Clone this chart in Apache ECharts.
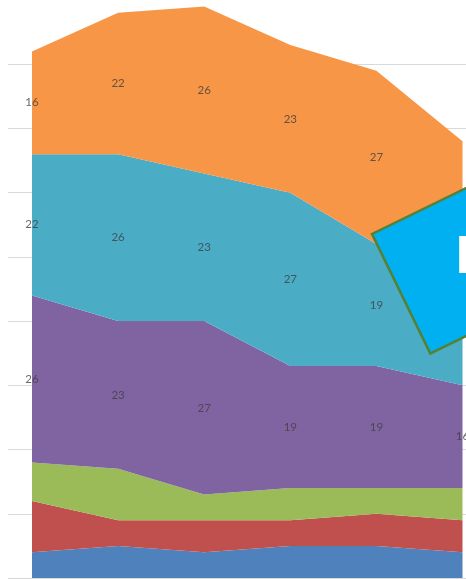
<!DOCTYPE html>
<html>
<head>
<meta charset="utf-8">
<script src="https://cdn.jsdelivr.net/npm/echarts@6/dist/echarts.min.js"></script>
<style>
html,body{margin:0;padding:0;background:#fff;}
#main{width:466px;height:579px;}
</style>
</head>
<body>
<div id="main"></div>
<script>
// Data (bottom to top of the stack)
const categories = ['1', '2', '3', '4', '5', '6'];
const blueVals   = [4, 5, 4, 5, 5, 4];
const redVals    = [8, 4, 5, 4, 5, 5];
const greenVals  = [6, 8, 4, 5, 4, 5];
const purpleVals = [26, 23, 27, 19, 19, 16];
const tealVals   = [22, 26, 23, 27, 19, 19];
const orangeVals = [16, 22, 26, 23, 27, 19];
const yTicks = [0, 10, 20, 30, 40, 50, 60, 70, 80, 90];

const seriesDefs = [
  {name: 'S1', vals: blueVals,   color: '#4f81bd', label: false},
  {name: 'S2', vals: redVals,    color: '#c0504d', label: false},
  {name: 'S3', vals: greenVals,  color: '#9bbb59', label: false},
  {name: 'S4', vals: purpleVals, color: '#8064a2', label: true},
  {name: 'S5', vals: tealVals,   color: '#4bacc6', label: true},
  {name: 'S6', vals: orangeVals, color: '#f79646', label: true}
];

const series = [];
const base = categories.map(() => 0);
seriesDefs.forEach(def => {
  series.push({
    name: def.name,
    type: 'line',
    stack: 'total',
    xAxisIndex: 1, yAxisIndex: 1,
    showSymbol: false,
    symbol: 'none',
    lineStyle: {width: 0},
    areaStyle: {color: def.color, opacity: 1},
    data: def.vals,
    z: 2
  });
  if (def.label) {
    series.push({
      type: 'scatter',
      xAxisIndex: 1, yAxisIndex: 1,
      symbolSize: 0,
      silent: true,
      z: 5,
      label: {
        show: true,
        position: 'inside',
        formatter: p => String(p.data[2]),
        color: '#404040',
        fontSize: 11.5,
        fontFamily: 'Lato'
      },
      data: def.vals.map((v, i) => [categories[i], base[i] + v / 2, v])
    });
  }
  def.vals.forEach((v, i) => { base[i] += v; });
});

const yCommon = {
  type: 'value',
  min: yTicks[0],
  max: yTicks[yTicks.length - 1],
  interval: yTicks[1] - yTicks[0],
  axisLine: {show: false}, axisTick: {show: false}, axisLabel: {show: false}
};
const xHidden = {axisLine: {show: false}, axisTick: {show: false}, axisLabel: {show: false}, splitLine: {show: false}};
// the topmost line falls on the cropped top edge and is not visible
const gridColors = yTicks.map((t, i) => i === yTicks.length - 1 ? 'rgba(0,0,0,0)' : '#d9d9d9');

const chart = echarts.init(document.getElementById('main'));
chart.setOption({
  animation: false,
  grid: [
    {left: 8, right: 0, top: -1, bottom: 1},
    {left: 32, right: 3.5, top: -1, bottom: 1}
  ],
  xAxis: [
    Object.assign({type: 'value', gridIndex: 0, min: 0, max: 1}, xHidden),
    Object.assign({type: 'category', gridIndex: 1, boundaryGap: false, data: categories}, xHidden)
  ],
  yAxis: [
    Object.assign({gridIndex: 0, splitLine: {show: true, lineStyle: {color: gridColors, width: 1}}}, yCommon),
    Object.assign({gridIndex: 1, splitLine: {show: false}}, yCommon)
  ],
  series: series,
  graphic: [
    {
      type: 'group',
      x: 372, y: 234,
      rotation: 26 * Math.PI / 180,
      zlevel: 2,
      z: 100,
      children: [
        {
          type: 'rect',
          zlevel: 2,
          shape: {x: 0, y: 0, width: 260, height: 133},
          style: {fill: '#00b0f0', stroke: '#548235', lineWidth: 2.5}
        }
      ]
    },
    {
      type: 'text',
      x: 455, y: 256,
      zlevel: 2,
      z: 101,
      style: {
        text: 'D',
        fill: '#ffffff',
        font: 'bold 52px Lato',
        verticalAlign: 'middle',
        align: 'left'
      }
    }
  ]
});
</script>
</body>
</html>
